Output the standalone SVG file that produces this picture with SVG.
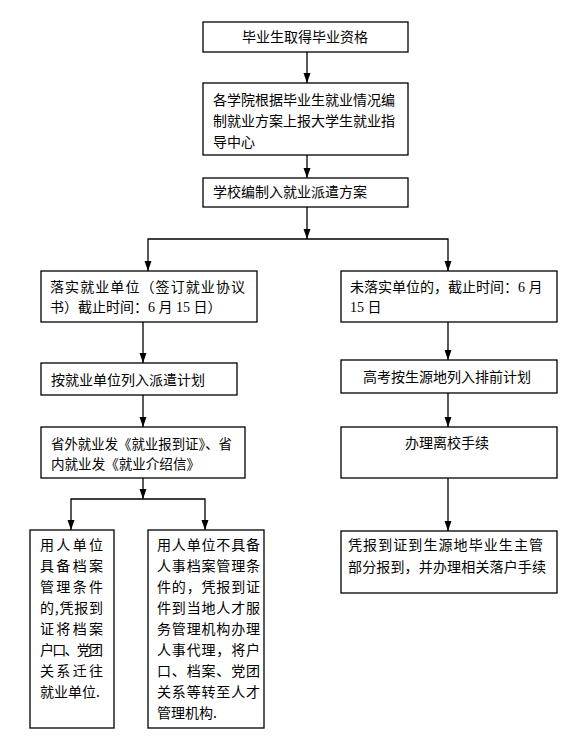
<svg xmlns="http://www.w3.org/2000/svg" width="588" height="750" viewBox="0 0 588 750">
<style>
.box{fill:#fff;stroke:#000;stroke-width:1.3}
.t{font-family:"Noto Sans CJK SC","Noto Sans CJK JP",sans-serif;font-size:14px;fill:#000}
.n{font-family:"Liberation Serif",serif;font-size:14px}
.c{text-anchor:middle}
.ln{fill:none;stroke:#000;stroke-width:1.3;marker-end:url(#ah)}
.pl{fill:none;stroke:#000;stroke-width:1.3}
</style>
<defs>
<marker id="ah" markerUnits="userSpaceOnUse" markerWidth="10" markerHeight="10" viewBox="0 0 10 10" refX="10" refY="5" orient="auto">
<path d="M0,1.5 L10,5 L0,8.5 Z" fill="#000"/>
</marker>
</defs>
<rect width="588" height="750" fill="#fff"/>
<g id="connectors">
<path class="ln" d="M307,52 V83"/>
<path class="ln" d="M307,155 V178"/>
<path class="ln" d="M307,207 V239"/>
<path class="ln" d="M307,239 H148 V271"/>
<path class="ln" d="M307,239 H448 V271"/>
<path class="ln" d="M143,322 V363"/>
<path class="ln" d="M143,395 V427"/>
<path class="ln" d="M143,478 V499"/>
<path class="ln" d="M143,499 H71 V530"/>
<path class="ln" d="M143,499 H205 V530"/>
<path class="ln" d="M448,322 V360"/>
<path class="ln" d="M448,393 V427"/>
<path class="ln" d="M448,478 V531"/>
</g>
<g id="n1">
<rect class="box" x="203" y="22" width="205" height="30"/>
<text class="t c" x="305" y="42">毕业生取得毕业资格</text>
</g>
<g id="n2">
<rect class="box" x="203" y="83" width="205" height="72"/>
<text class="t" x="213" y="105" textLength="182" lengthAdjust="spacing">各学院根据毕业生就业情况编</text>
<text class="t" x="213" y="126" textLength="182" lengthAdjust="spacing">制就业方案上报大学生就业指</text>
<text class="t" x="213" y="147">导中心</text>
</g>
<g id="n3">
<rect class="box" x="203" y="178" width="205" height="29"/>
<text class="t" x="213" y="197">学校编制入就业派遣方案</text>
</g>
<g id="n4">
<rect class="box" x="41" y="271" width="216" height="51"/>
<text class="t" x="50" y="292" textLength="195" lengthAdjust="spacing">落实就业单位（签订就业协议</text>
<text class="t" x="50" y="312">书）截止时间：<tspan class="n">6 </tspan>月<tspan class="n"> 15 </tspan>日）</text>
</g>
<g id="n5">
<rect class="box" x="41" y="363" width="196" height="32"/>
<text class="t" x="51" y="385">按就业单位列入派遣计划</text>
</g>
<g id="n6">
<rect class="box" x="41" y="427" width="204" height="51"/>
<text class="t" x="51" y="449" textLength="181" lengthAdjust="spacingAndGlyphs">省外就业发《就业报到证》、省</text>
<text class="t" x="51" y="469" textLength="149" lengthAdjust="spacingAndGlyphs">内就业发《就业介绍信》</text>
</g>
<g id="n7">
<rect class="box" x="30" y="530" width="84" height="198"/>
<text class="t" x="40" y="550" textLength="63" lengthAdjust="spacing">用人单位</text>
<text class="t" x="40" y="571" textLength="63" lengthAdjust="spacing">具备档案</text>
<text class="t" x="40" y="592" textLength="63" lengthAdjust="spacing">管理条件</text>
<text class="t" x="40" y="613" textLength="63" lengthAdjust="spacing">的,凭报到</text>
<text class="t" x="40" y="634" textLength="63" lengthAdjust="spacing">证将档案</text>
<text class="t" x="40" y="655" textLength="63" lengthAdjust="spacing">户口、党团</text>
<text class="t" x="40" y="676" textLength="63" lengthAdjust="spacing">关系迁往</text>
<text class="t" x="40" y="697">就业单位.</text>
</g>
<g id="n8">
<rect class="box" x="148" y="530" width="116" height="198"/>
<text class="t" x="157" y="550" textLength="103" lengthAdjust="spacing">用人单位不具备</text>
<text class="t" x="157" y="571" textLength="103" lengthAdjust="spacing">人事档案管理条</text>
<text class="t" x="157" y="592" textLength="103" lengthAdjust="spacing">件的，凭报到证</text>
<text class="t" x="157" y="613" textLength="103" lengthAdjust="spacing">件到当地人才服</text>
<text class="t" x="157" y="634" textLength="103" lengthAdjust="spacing">务管理机构办理</text>
<text class="t" x="157" y="655" textLength="103" lengthAdjust="spacing">人事代理，将户</text>
<text class="t" x="157" y="676" textLength="103" lengthAdjust="spacing">口、档案、党团</text>
<text class="t" x="157" y="697" textLength="103" lengthAdjust="spacing">关系等转至人才</text>
<text class="t" x="157" y="718">管理机构.</text>
</g>
<g id="n9">
<rect class="box" x="341" y="271" width="216" height="51"/>
<text class="t" x="350" y="292">未落实单位的，截止时间：<tspan class="n">6 </tspan>月</text>
<text class="t" x="350" y="312"><tspan class="n">15 </tspan>日</text>
</g>
<g id="n10">
<rect class="box" x="341" y="360" width="216" height="33"/>
<text class="t c" x="447" y="382">高考按生源地列入排前计划</text>
</g>
<g id="n11">
<rect class="box" x="341" y="427" width="216" height="51"/>
<text class="t c" x="447" y="448">办理离校手续</text>
</g>
<g id="n12">
<rect class="box" x="341" y="531" width="216" height="62"/>
<text class="t" x="348" y="550" textLength="195" lengthAdjust="spacing">凭报到证到生源地毕业生主管</text>
<text class="t" x="348" y="572" textLength="198" lengthAdjust="spacing">部分报到，并办理相关落户手续</text>
</g>
</svg>
